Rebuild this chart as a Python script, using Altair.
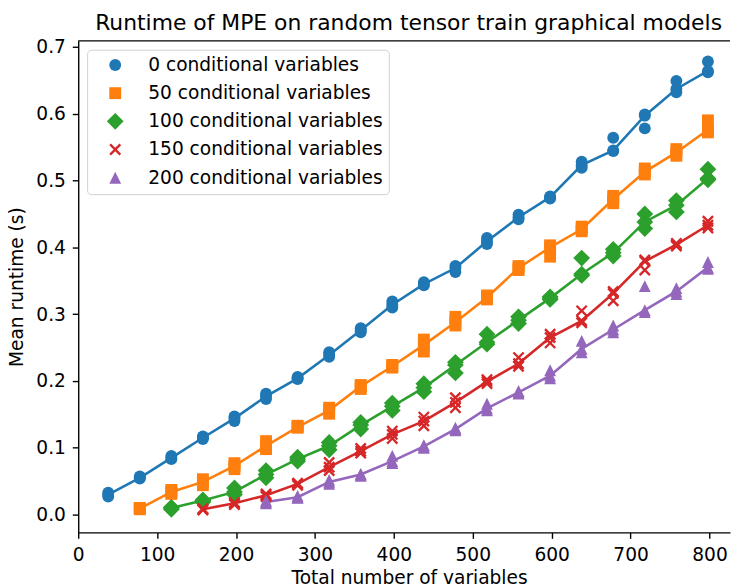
import altair as alt
import pandas as pd

# ---- data ----
conditional_counts = ["0", "50", "100", "150", "200"]
series_names = [
    "0 conditional variables",
    "50 conditional variables",
    "100 conditional variables",
    "150 conditional variables",
    "200 conditional variables",
]
series_colors = ["#1f77b4", "#ff7f0e", "#2ca02c", "#d62728", "#9467bd"]

title_text = "Runtime of MPE on random tensor train graphical models"
x_ticks = [0, 100, 200, 300, 400, 500, 600, 700, 800]
y_ticks = [0.0, 0.1, 0.2, 0.3, 0.4, 0.5, 0.6, 0.7]

x_0 = [38, 78, 118, 158, 198, 238, 278, 318, 358, 398, 438, 478, 518, 558, 598, 638, 678, 718, 758, 798]
runs_0 = [
    [0.033, 0.030, 0.027], [0.057, 0.055, 0.054], [0.088, 0.085, 0.083], [0.117, 0.115, 0.113],
    [0.147, 0.144, 0.140], [0.181, 0.177, 0.173], [0.206, 0.204, 0.203], [0.243, 0.239, 0.236],
    [0.279, 0.276, 0.273], [0.319, 0.314, 0.310], [0.348, 0.345, 0.343], [0.372, 0.369, 0.363],
    [0.414, 0.409, 0.405], [0.449, 0.445, 0.442], [0.476, 0.475, 0.473], [0.528, 0.523, 0.519],
    [0.564, 0.545, 0.544], [0.599, 0.597, 0.578], [0.649, 0.637, 0.632], [0.678, 0.664, 0.662],
]

x_50 = [78, 118, 158, 198, 238, 278, 318, 358, 398, 438, 478, 518, 558, 598, 638, 678, 718, 758, 798]
runs_50 = [
    [0.010, 0.009, 0.008], [0.037, 0.034, 0.031], [0.053, 0.049, 0.044], [0.077, 0.073, 0.068],
    [0.110, 0.103, 0.098], [0.133, 0.131, 0.130], [0.160, 0.156, 0.151], [0.194, 0.192, 0.188],
    [0.224, 0.222, 0.220], [0.262, 0.254, 0.244], [0.296, 0.288, 0.283], [0.328, 0.325, 0.322],
    [0.372, 0.369, 0.366], [0.403, 0.400, 0.386], [0.431, 0.427, 0.424], [0.477, 0.472, 0.466],
    [0.518, 0.513, 0.509], [0.547, 0.542, 0.537], [0.590, 0.576, 0.572],
]

x_100 = [118, 158, 198, 238, 278, 318, 358, 398, 438, 478, 518, 558, 598, 638, 678, 718, 758, 798]
runs_100 = [
    [0.011, 0.010, 0.008], [0.022, 0.021, 0.019], [0.040, 0.034, 0.030], [0.066, 0.060, 0.055],
    [0.086, 0.083, 0.080], [0.108, 0.103, 0.097], [0.138, 0.134, 0.128], [0.167, 0.162, 0.156],
    [0.196, 0.190, 0.184], [0.228, 0.224, 0.212], [0.270, 0.258, 0.255], [0.296, 0.291, 0.286],
    [0.326, 0.324, 0.322], [0.384, 0.360, 0.358], [0.397, 0.392, 0.387], [0.450, 0.438, 0.428],
    [0.470, 0.463, 0.453], [0.517, 0.503, 0.501],
]

x_150 = [158, 198, 238, 278, 318, 358, 398, 438, 478, 518, 558, 598, 638, 678, 718, 758, 798]
runs_150 = [
    [0.009, 0.008, 0.007], [0.018, 0.017, 0.015], [0.031, 0.029, 0.027], [0.047, 0.046, 0.044],
    [0.078, 0.071, 0.066], [0.099, 0.095, 0.092], [0.125, 0.120, 0.114], [0.146, 0.140, 0.133],
    [0.175, 0.168, 0.160], [0.202, 0.199, 0.196], [0.235, 0.226, 0.222], [0.270, 0.265, 0.257],
    [0.305, 0.290, 0.287], [0.334, 0.331, 0.320], [0.381, 0.379, 0.366], [0.406, 0.404, 0.402],
    [0.439, 0.433, 0.429],
]

x_200 = [238, 278, 318, 358, 398, 438, 478, 518, 558, 598, 638, 678, 718, 758, 798]
runs_200 = [
    [0.021, 0.019, 0.017], [0.028, 0.026, 0.025], [0.052, 0.049, 0.046], [0.061, 0.060, 0.058],
    [0.088, 0.080, 0.077], [0.104, 0.102, 0.100], [0.130, 0.128, 0.126], [0.166, 0.159, 0.156],
    [0.185, 0.183, 0.181], [0.216, 0.208, 0.204], [0.260, 0.248, 0.243], [0.283, 0.277, 0.273],
    [0.342, 0.306, 0.303], [0.339, 0.334, 0.330], [0.378, 0.370, 0.368],
]

# ---- build the long table ----
rows = []
for cnt, name, xs, runs in zip(
    conditional_counts,
    series_names,
    [x_0, x_50, x_100, x_150, x_200],
    [runs_0, runs_50, runs_100, runs_150, runs_200],
):
    for xv, vals in zip(xs, runs):
        for v in vals:
            rows.append({"series": name, "line_series": cnt, "x": xv, "y": v})
df = pd.DataFrame(rows)

FONT = "DejaVu Sans"
FS = 18.8
W, H = 659, 497

# marker shapes (matplotlib o, s, D, x, ^)
diamond = "M0,-1.414L1.414,0L0,1.414L-1.414,0Z"
xmark = ("M-1,-0.72L-0.72,-1L0,-0.28L0.72,-1L1,-0.72L0.28,0L1,0.72L0.72,1"
         "L0,0.28L-0.72,1L-1,0.72L-0.28,0Z")
triangle = "M0,-1L1,1L-1,1Z"
shapes = ["circle", "square", diamond, xmark, triangle]

xscale = alt.Scale(domain=[0, 826], nice=False, zero=False)
yscale = alt.Scale(domain=[-0.0266, 0.709], nice=False, zero=False)
cscale = alt.Scale(domain=series_names, range=series_colors)
sscale = alt.Scale(domain=series_names, range=shapes)
lscale = alt.Scale(domain=conditional_counts, range=series_colors)

common_axis = dict(
    grid=False, tickSize=6, tickWidth=1.4, tickColor="black",
    domainColor="black", domainWidth=1.4,
    labelFont=FONT, labelFontSize=FS, labelColor="black",
    titleFont=FONT, titleFontSize=FS, titleFontWeight="normal", titleColor="black",
    labelFlush=False, labelOverlap=False,
)
xaxis = alt.Axis(values=x_ticks, title="Total number of variables", labelPadding=7,
                 titlePadding=5, titleX=334.5, **common_axis)
yaxis = alt.Axis(values=y_ticks, format=".1f", title="Mean runtime (s)", labelPadding=7,
                 titlePadding=9, **common_axis)

legend = alt.Legend(
    title=None, orient="top-left", offset=9,
    labelFont=FONT, labelFontSize=FS, labelColor="black", labelLimit=400,
    symbolSize=144, symbolStrokeWidth=0, symbolOpacity=1,
    symbolOffset=13, labelOffset=24,
    padding=6, rowPadding=8.5,
    strokeColor="#d0d0d0", fillColor="white", cornerRadius=4,
)

base = alt.Chart(df)

lines = base.mark_line(strokeWidth=2.6).encode(
    x=alt.X("x:Q", scale=xscale, axis=xaxis),
    y=alt.Y("median(y):Q", scale=yscale, axis=yaxis),
    stroke=alt.Stroke("line_series:N", scale=lscale, legend=None),
)

points = base.mark_point(filled=True, opacity=1, size=144).encode(
    x=alt.X("x:Q", scale=xscale, axis=xaxis),
    y=alt.Y("y:Q", scale=yscale, axis=yaxis),
    color=alt.Color("series:N", scale=cscale, legend=legend),
    shape=alt.Shape("series:N", scale=sscale, legend=legend),
)

one = pd.DataFrame({"a": [0]})
top_spine = alt.Chart(one).mark_rule(color="black", strokeWidth=1.4).encode(
    x=alt.value(0), x2=alt.value(W), y=alt.value(0)
)
title_mark = alt.Chart(one).mark_text(
    font=FONT, fontSize=22.1, color="black", align="center", baseline="alphabetic"
).encode(x=alt.value(334), y=alt.value(-11), text=alt.value(title_text))

chart = alt.layer(lines, points, top_spine, title_mark).properties(
    width=W, height=H,
    autosize=alt.AutoSizeParams(type="none"),
    padding={"left": 71, "top": 30, "right": 2, "bottom": 52},
).configure_view(stroke=None)

chart.save("out.html", embed_options={"renderer": "svg", "actions": False})
